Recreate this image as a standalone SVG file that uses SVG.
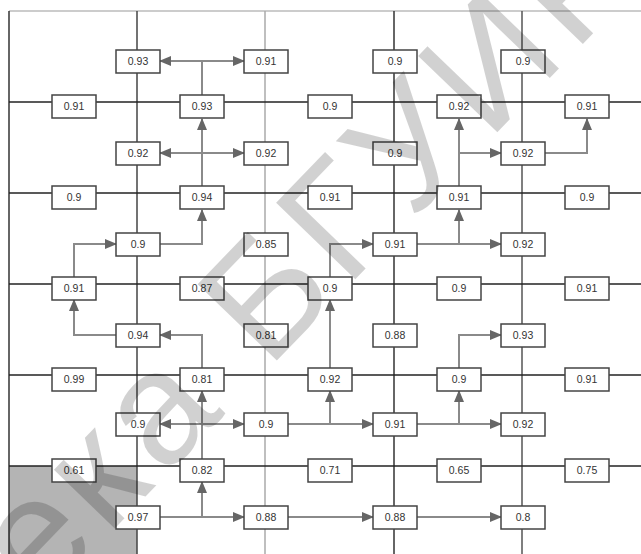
<svg xmlns="http://www.w3.org/2000/svg" width="641" height="554" viewBox="0 0 641 554">
<style>
.bx rect{fill:#fff;stroke:#444;stroke-width:1.5}
.bx text{font-family:"Liberation Sans",Arial,sans-serif;font-size:10.5px;fill:#333;text-anchor:middle}
.gl{stroke:#222;stroke-width:1.5}
.cn{fill:none;stroke:#8a8a8a;stroke-width:2}
.ar{marker-end:url(#ah)}
.da{marker-start:url(#ah);marker-end:url(#ah)}
</style>
<defs>
<marker id="ah" markerUnits="userSpaceOnUse" markerWidth="12" markerHeight="12" viewBox="0 0 12 12" refX="11" refY="6" orient="auto-start-reverse">
<path d="M0,1 L12,6 L0,11 Z" fill="#666"/>
</marker>
</defs>
<rect x="0" y="0" width="641" height="554" fill="#fff"/>
<rect x="9" y="466" width="128" height="88" fill="#b4b4b4"/>
<g id="grid">
<line x1="9" y1="11" x2="641" y2="11" stroke="#bbb" stroke-width="1.5"/>
<line x1="9" y1="11" x2="9" y2="554" stroke="#333" stroke-width="1.5"/>
<line x1="137" y1="11" x2="137" y2="554" stroke="#444" stroke-width="1.5"/>
<line x1="265" y1="11" x2="265" y2="554" stroke="#aaa" stroke-width="1.5"/>
<line x1="394" y1="11" x2="394" y2="554" stroke="#333" stroke-width="1.5"/>
<line x1="522" y1="11" x2="522" y2="554" stroke="#555" stroke-width="1.5"/>
<line class="gl" x1="9" y1="102" x2="641" y2="102"/>
<line class="gl" x1="9" y1="193" x2="641" y2="193"/>
<line class="gl" x1="9" y1="284" x2="641" y2="284"/>
<line class="gl" x1="9" y1="375" x2="641" y2="375"/>
<line class="gl" x1="9" y1="466" x2="641" y2="466"/>
</g>
<g id="connectors">
<path class="cn" d="M202,95 V61"/>
<path class="cn da" d="M160,61 H244"/>
<path class="cn ar" d="M202,186 V119"/>
<path class="cn da" d="M160,153 H244"/>
<path class="cn ar" d="M160,244 H202 V210"/>
<path class="cn ar" d="M74,277 V244 H116"/>
<path class="cn ar" d="M116,335 H74 V300"/>
<path class="cn ar" d="M202,368 V335 H160"/>
<path class="cn ar" d="M202,459 V391"/>
<path class="cn da" d="M160,424 H244"/>
<path class="cn ar" d="M160,517 H244"/>
<path class="cn ar" d="M202,517 V482"/>
<path class="cn ar" d="M288,424 H373"/>
<path class="cn ar" d="M330,424 V391"/>
<path class="cn ar" d="M330,368 V300"/>
<path class="cn ar" d="M330,277 V244 H373"/>
<path class="cn ar" d="M417,424 H501"/>
<path class="cn ar" d="M459,424 V391"/>
<path class="cn ar" d="M459,368 V335 H501"/>
<path class="cn ar" d="M417,244 H501"/>
<path class="cn ar" d="M459,244 V210"/>
<path class="cn ar" d="M459,186 V119"/>
<path class="cn ar" d="M459,153 H501"/>
<path class="cn ar" d="M545,153 H587 V119"/>
<path class="cn ar" d="M288,517 H373"/>
<path class="cn ar" d="M417,517 H501"/>
</g>
<g id="n1" class="bx"><rect x="116" y="50" width="44" height="23"/><text x="138" y="65">0.93</text></g>
<g id="n2" class="bx"><rect x="244" y="50" width="44" height="23"/><text x="266" y="65">0.91</text></g>
<g id="n3" class="bx"><rect x="373" y="50" width="44" height="23"/><text x="395" y="65">0.9</text></g>
<g id="n4" class="bx"><rect x="501" y="50" width="44" height="23"/><text x="523" y="65">0.9</text></g>
<g id="n5" class="bx"><rect x="52" y="95" width="44" height="23"/><text x="74" y="110">0.91</text></g>
<g id="n6" class="bx"><rect x="180" y="95" width="44" height="23"/><text x="202" y="110">0.93</text></g>
<g id="n7" class="bx"><rect x="308" y="95" width="44" height="23"/><text x="330" y="110">0.9</text></g>
<g id="n8" class="bx"><rect x="437" y="95" width="44" height="23"/><text x="459" y="110">0.92</text></g>
<g id="n9" class="bx"><rect x="565" y="95" width="44" height="23"/><text x="587" y="110">0.91</text></g>
<g id="n10" class="bx"><rect x="116" y="142" width="44" height="23"/><text x="138" y="157">0.92</text></g>
<g id="n11" class="bx"><rect x="244" y="142" width="44" height="23"/><text x="266" y="157">0.92</text></g>
<g id="n12" class="bx"><rect x="373" y="142" width="44" height="23"/><text x="395" y="157">0.9</text></g>
<g id="n13" class="bx"><rect x="501" y="142" width="44" height="23"/><text x="523" y="157">0.92</text></g>
<g id="n14" class="bx"><rect x="52" y="186" width="44" height="23"/><text x="74" y="201">0.9</text></g>
<g id="n15" class="bx"><rect x="180" y="186" width="44" height="23"/><text x="202" y="201">0.94</text></g>
<g id="n16" class="bx"><rect x="308" y="186" width="44" height="23"/><text x="330" y="201">0.91</text></g>
<g id="n17" class="bx"><rect x="437" y="186" width="44" height="23"/><text x="459" y="201">0.91</text></g>
<g id="n18" class="bx"><rect x="565" y="186" width="44" height="23"/><text x="587" y="201">0.9</text></g>
<g id="n19" class="bx"><rect x="116" y="233" width="44" height="23"/><text x="138" y="248">0.9</text></g>
<g id="n20" class="bx"><rect x="244" y="233" width="44" height="23"/><text x="266" y="248">0.85</text></g>
<g id="n21" class="bx"><rect x="373" y="233" width="44" height="23"/><text x="395" y="248">0.91</text></g>
<g id="n22" class="bx"><rect x="501" y="233" width="44" height="23"/><text x="523" y="248">0.92</text></g>
<g id="n23" class="bx"><rect x="52" y="277" width="44" height="23"/><text x="74" y="292">0.91</text></g>
<g id="n24" class="bx"><rect x="180" y="277" width="44" height="23"/><text x="202" y="292">0.87</text></g>
<g id="n25" class="bx"><rect x="308" y="277" width="44" height="23"/><text x="330" y="292">0.9</text></g>
<g id="n26" class="bx"><rect x="437" y="277" width="44" height="23"/><text x="459" y="292">0.9</text></g>
<g id="n27" class="bx"><rect x="565" y="277" width="44" height="23"/><text x="587" y="292">0.91</text></g>
<g id="n28" class="bx"><rect x="116" y="324" width="44" height="23"/><text x="138" y="339">0.94</text></g>
<g id="n29" class="bx"><rect x="244" y="324" width="44" height="23"/><text x="266" y="339">0.81</text></g>
<g id="n30" class="bx"><rect x="373" y="324" width="44" height="23"/><text x="395" y="339">0.88</text></g>
<g id="n31" class="bx"><rect x="501" y="324" width="44" height="23"/><text x="523" y="339">0.93</text></g>
<g id="n32" class="bx"><rect x="52" y="368" width="44" height="23"/><text x="74" y="383">0.99</text></g>
<g id="n33" class="bx"><rect x="180" y="368" width="44" height="23"/><text x="202" y="383">0.81</text></g>
<g id="n34" class="bx"><rect x="308" y="368" width="44" height="23"/><text x="330" y="383">0.92</text></g>
<g id="n35" class="bx"><rect x="437" y="368" width="44" height="23"/><text x="459" y="383">0.9</text></g>
<g id="n36" class="bx"><rect x="565" y="368" width="44" height="23"/><text x="587" y="383">0.91</text></g>
<g id="n37" class="bx"><rect x="116" y="413" width="44" height="23"/><text x="138" y="428">0.9</text></g>
<g id="n38" class="bx"><rect x="244" y="413" width="44" height="23"/><text x="266" y="428">0.9</text></g>
<g id="n39" class="bx"><rect x="373" y="413" width="44" height="23"/><text x="395" y="428">0.91</text></g>
<g id="n40" class="bx"><rect x="501" y="413" width="44" height="23"/><text x="523" y="428">0.92</text></g>
<g id="n41" class="bx"><rect x="52" y="459" width="44" height="23"/><text x="74" y="474">0.61</text></g>
<g id="n42" class="bx"><rect x="180" y="459" width="44" height="23"/><text x="202" y="474">0.82</text></g>
<g id="n43" class="bx"><rect x="308" y="459" width="44" height="23"/><text x="330" y="474">0.71</text></g>
<g id="n44" class="bx"><rect x="437" y="459" width="44" height="23"/><text x="459" y="474">0.65</text></g>
<g id="n45" class="bx"><rect x="565" y="459" width="44" height="23"/><text x="587" y="474">0.75</text></g>
<g id="n46" class="bx"><rect x="116" y="506" width="44" height="23"/><text x="138" y="521">0.97</text></g>
<g id="n47" class="bx"><rect x="244" y="506" width="44" height="23"/><text x="266" y="521">0.88</text></g>
<g id="n48" class="bx"><rect x="373" y="506" width="44" height="23"/><text x="395" y="521">0.88</text></g>
<g id="n49" class="bx"><rect x="501" y="506" width="44" height="23"/><text x="523" y="521">0.8</text></g>
<text id="watermark" transform="translate(40,606) rotate(-46)" font-family="Liberation Sans, Arial, sans-serif" font-size="160" letter-spacing="8" fill="#000" fill-opacity="0.18">ека БГУИР</text>
</svg>
